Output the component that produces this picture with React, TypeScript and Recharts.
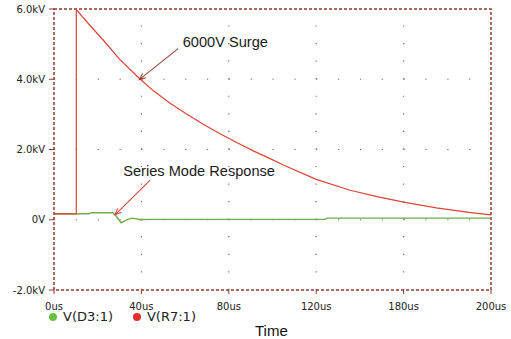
import React from 'react';
import {
  LineChart,
  Line,
  XAxis,
  YAxis,
  ReferenceArea,
  ReferenceLine,
  ReferenceDot,
} from 'recharts';

// axis ticks (time in us, voltage in V)
const timeTicks = [0, 40, 80, 120, 160, 200];
const timeTickLabels = ['0us', '40us', '80us', '120us', '180us', '200us'];
const voltTicks = [-2000, 0, 2000, 4000, 6000];
const voltTickLabels = ['-2.0kV', '0V', '2.0kV', '4.0kV', '6.0kV'];

// V(R7:1) - the surge
const surgeTime = [0, 10.2, 10.2, 16.5, 22.6, 30.2, 39, 45.5, 53.1, 60.7, 68.3, 76, 83.6, 91.2, 98.9, 105, 120, 135.5, 148.4, 160, 175, 190, 200];
const surgeVolts = [170, 170, 5980, 5530, 5110, 4560, 4030, 3670, 3320, 3010, 2720, 2450, 2200, 1960, 1740, 1560, 1150, 840, 650, 500, 340, 210, 140];

// V(D3:1) - series mode response
const respTime = [0, 16, 17, 27, 28.5, 30.7, 33, 35.6, 38, 39.5, 43, 60, 100, 124, 125, 200];
const respVolts = [170, 170, 200, 200, 100, -85, -10, 45, 25, 0, 10, 10, 10, 10, 45, 45];

const seriesNames = ['V(D3:1)', 'V(R7:1)'];
const seriesColors = ['#6fae4a', '#dc4436'];
const legendDots = ['#6cbf45', '#e8302a'];

// dotted grid rows / columns
const gridVolts = [0, 2000, 4000];
const gridTimes = [40, 80, 120, 160];

const surgeData = surgeTime.map((t, i) => ({ t, v: surgeVolts[i] }));
const respData = respTime.map((t, i) => ({ t, v: respVolts[i] }));

const frame = '#8a3a2c';

function arrowShape(color: string) {
  return (props: any) => {
    const { x1, y1, x2, y2 } = props;
    const ang = Math.atan2(y2 - y1, x2 - x1);
    const len = 7;
    const a1 = ang + Math.PI - 0.4;
    const a2 = ang + Math.PI + 0.4;
    return (
      <g>
        <line x1={x1} y1={y1} x2={x2} y2={y2} stroke={color} strokeWidth={1.1} />
        <polyline
          points={`${x2 + len * Math.cos(a1)},${y2 + len * Math.sin(a1)} ${x2},${y2} ${x2 + len * Math.cos(a2)},${y2 + len * Math.sin(a2)}`}
          fill="none"
          stroke={color}
          strokeWidth={1.1}
        />
      </g>
    );
  };
}

function textShape(label: string) {
  return (props: any) => (
    <text
      x={props.cx}
      y={props.cy}
      fontFamily="'Liberation Sans', Arial, sans-serif"
      fontSize={14.6}
      fill="#1a1a1a"
    >
      {label}
    </text>
  );
}

export default function App() {
  return (
    <div style={{ position: 'absolute', left: 0, top: 0, width: 511, height: 339, background: '#fff' }}>
      <LineChart width={511} height={339} data={surgeData} margin={{ top: 9, right: 20, bottom: 29, left: 0 }}>
        <XAxis
          type="number"
          dataKey="t"
          domain={[0, 200]}
          ticks={timeTicks}
          tickFormatter={(v: number) => timeTickLabels[timeTicks.indexOf(v)]}
          axisLine={false}
          tickLine={{ stroke: frame }}
          tickSize={4}
          tickMargin={9}
          height={20}
          interval={0}
          tick={{ fontFamily: "'DejaVu Sans', Verdana, sans-serif", fontSize: 10, fill: '#222' }}
        />
        <YAxis
          type="number"
          domain={[-2000, 6000]}
          ticks={voltTicks}
          tickFormatter={(v: number) => voltTickLabels[voltTicks.indexOf(v)]}
          axisLine={false}
          tickLine={{ stroke: frame }}
          tickSize={5}
          tickMargin={4}
          width={54}
          interval={0}
          tick={{ fontFamily: "'DejaVu Sans', Verdana, sans-serif", fontSize: 10, fill: '#222' }}
        />
        {gridVolts.map((v) => (
          <ReferenceLine key={'h' + v} y={v} stroke="#9a5a4a" strokeWidth={1.2} strokeDasharray="1.2 20.65" />
        ))}
        {gridTimes.map((t) => (
          <ReferenceLine key={'v' + t} x={t} stroke="#9a5a4a" strokeWidth={1.2} strokeDasharray="1.2 16.36" />
        ))}
        <ReferenceArea
          x1={0}
          x2={200}
          y1={-2000}
          y2={6000}
          fill="none"
          fillOpacity={0}
          stroke={frame}
          strokeWidth={1.5}
          strokeDasharray="3 2"
        />
        <Line
          data={respData}
          dataKey="v"
          name={seriesNames[0]}
          type="linear"
          stroke={seriesColors[0]}
          strokeWidth={1.4}
          dot={false}
          isAnimationActive={false}
        />
        <Line
          data={surgeData}
          dataKey="v"
          name={seriesNames[1]}
          type="linear"
          stroke={seriesColors[1]}
          strokeWidth={1.2}
          dot={false}
          isAnimationActive={false}
        />
        <ReferenceLine
          segment={[{ x: 56.8, y: 4870 }, { x: 39.0, y: 3990 }]}
          shape={arrowShape('#9a4535')}
        />
        <ReferenceLine
          segment={[{ x: 43.9, y: 1120 }, { x: 27.9, y: 140 }]}
          shape={arrowShape('#d9443a')}
        />
        <ReferenceDot x={58.9} y={4930} r={0} shape={textShape('6000V Surge')} />
        <ReferenceDot x={31.7} y={1240} r={0} shape={textShape('Series Mode Response')} />
      </LineChart>
      <div
        style={{
          position: 'absolute',
          left: 49,
          top: 308,
          display: 'flex',
          fontFamily: "'DejaVu Sans', Verdana, sans-serif",
          fontSize: 13,
          color: '#222',
          lineHeight: '18px',
        }}
      >
        {seriesNames.map((n, i) => (
          <div key={n} style={{ display: 'flex', alignItems: 'center', marginRight: 20 }}>
            <span
              style={{
                width: 8,
                height: 8,
                borderRadius: 4,
                background: legendDots[i],
                display: 'inline-block',
                marginRight: 6,
              }}
            />
            {n}
          </div>
        ))}
      </div>
      <div
        style={{
          position: 'absolute',
          left: 255,
          top: 322,
          fontFamily: "'Liberation Sans', Arial, sans-serif",
          fontSize: 15,
          color: '#111',
        }}
      >
        Time
      </div>
    </div>
  );
}
